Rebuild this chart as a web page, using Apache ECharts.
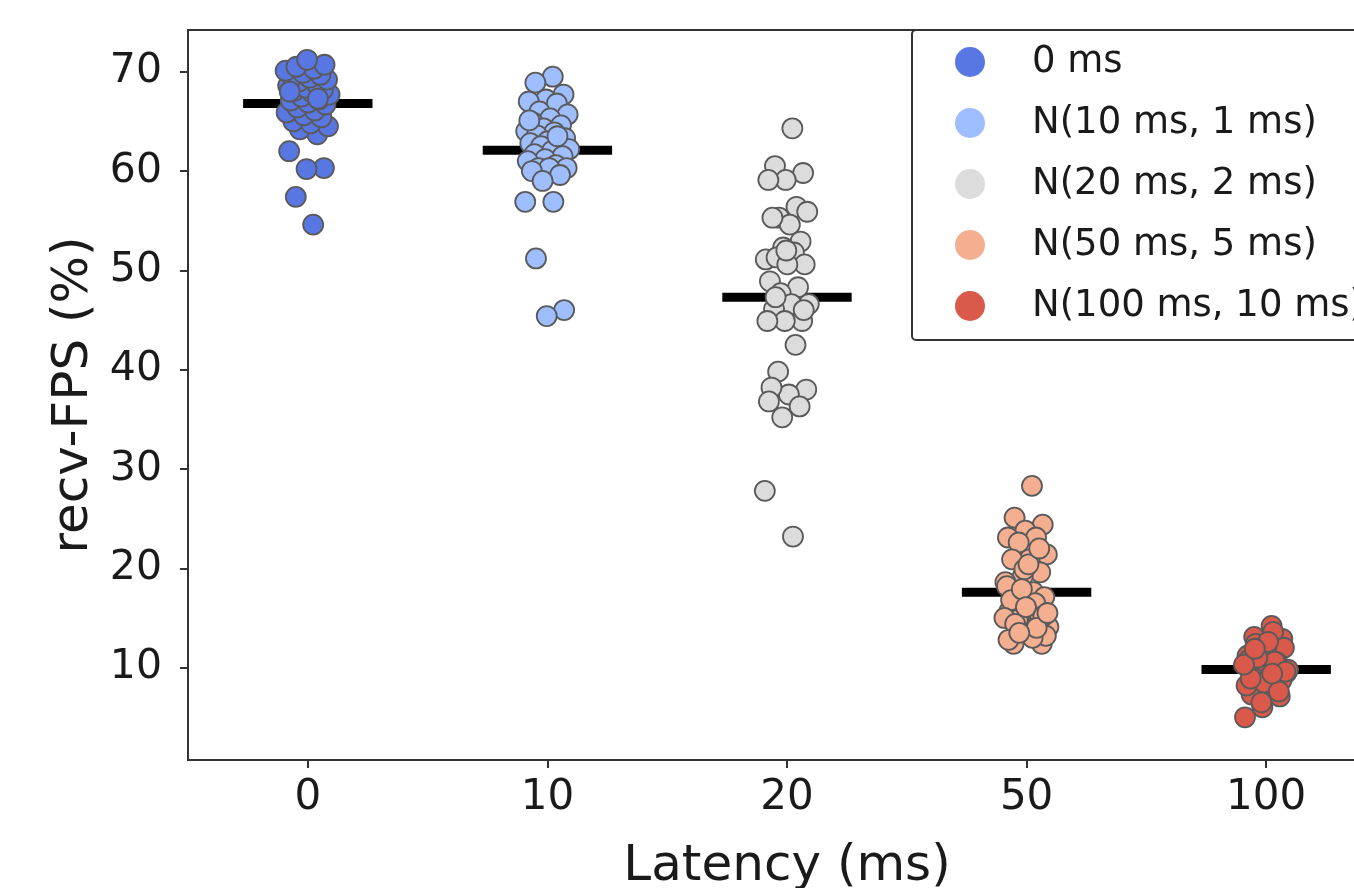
<!DOCTYPE html>
<html>
<head>
<meta charset="utf-8">
<script src="https://cdn.jsdelivr.net/npm/echarts@6/dist/echarts.min.js"></script>
<style>
html,body{margin:0;padding:0;background:#fff;overflow:hidden;width:1354px;height:888px;}
#chart{width:1400px;height:888px;}
</style>
</head>
<body>
<div id="chart"></div>
<script>
// ---- data ----
const categories = ['0', '10', '20', '50', '100'];
const seriesNames = ['0 ms', 'N(10 ms, 1 ms)', 'N(20 ms, 2 ms)', 'N(50 ms, 5 ms)', 'N(100 ms, 10 ms)'];
const yTicks = [10, 20, 30, 40, 50, 60, 70];

const lat0 = [54.6, 57.4, 60.3, 60.2, 62.0, 63.7,
  64.2, 64.5, 64.8, 65.0, 65.4, 65.6, 65.9, 66.1, 66.4, 66.7,
  66.9, 67.1, 67.2, 67.5, 67.7, 67.9, 68.1, 68.2, 68.4, 68.6,
  68.8, 69.0, 69.2, 69.4, 69.5, 69.7, 69.9, 70.1, 70.3, 70.5,
  70.7, 71.2, 68.0, 67.3];
const lat10 = [69.5, 68.9, 67.7, 67.2, 67.0, 66.8, 66.0, 65.7, 65.3, 64.9,
  64.6, 64.3, 64.0, 63.9, 63.6, 63.3, 63.0, 62.8, 62.5, 62.5,
  62.2, 62.0, 61.7, 61.5, 61.2, 61.0, 60.6, 60.3, 60.3, 60.3,
  60.0, 59.6, 59.0, 56.9, 56.9, 51.2, 46.0, 45.4, 65.1, 63.5];
const lat20 = [64.3, 60.5, 59.8, 59.1, 59.1, 56.4, 55.3, 55.9, 54.6, 55.3,
  52.9, 52.3, 51.1, 51.8, 51.3, 50.6, 50.6, 48.9, 48.3, 47.7,
  46.6, 46.6, 46.1, 44.9, 44.9, 44.9, 42.5, 39.8, 38.0, 37.5,
  38.2, 36.3, 35.2, 27.8, 23.2, 47.3, 46.0, 52.0, 36.8];
const lat50 = [28.3, 25.1, 24.4, 23.8, 23.1, 23.1, 22.6, 21.4, 20.9, 20.9,
  19.6, 19.2, 18.6, 17.6, 17.1, 17.1, 15.7, 15.7, 15.7, 15.4,
  14.1, 13.6, 12.4, 12.4, 19.9, 18.2, 16.5, 14.8, 13.2, 20.4,
  16.8, 22.0, 17.9, 15.0, 13.0, 14.4, 15.2, 16.1, 12.8, 14.0, 13.5, 15.5];
const lat100 = [14.2, 13.1, 12.9, 11.7, 11.2, 11.2, 10.0, 9.5, 7.8, 7.3,
  7.1, 6.0, 5.0, 13.6, 12.4, 12.0, 11.5, 10.8, 10.5, 10.2,
  9.8, 9.2, 9.0, 8.7, 8.5, 8.2, 10.6, 11.0, 9.6, 12.6,
  8.9, 7.6, 6.5, 10.3, 9.4, 11.9];
const meanValues = [66.8, 62.1, 47.3, 17.6, 9.8];

const allValues = [lat0, lat10, lat20, lat50, lat100];
const colors = ['#5977e3', '#9ebeff', '#dddcdc', '#f4ae90', '#d95a4b'];

// deterministic strip jitter (layout only)
function jitter(i) {
  return ((((i + 1) * 0.6180339887) % 1) - 0.5) * 0.19;
}

const font = 'DejaVu Sans';
const txt = '#1a1a1a';
const axisCol = '#333';

const scatterSeries = allValues.map((vals, k) => ({
  name: seriesNames[k],
  type: 'scatter',
  xAxisIndex: 1,
  yAxisIndex: 0,
  symbol: 'circle',
  symbolSize: 20,
  z: 3,
  itemStyle: { color: colors[k], borderColor: '#5a5a5a', borderWidth: 1.8, opacity: 1 },
  data: vals.map((v, i) => [k + jitter(i), v])
}));

const meanSeries = {
  name: 'mean',
  type: 'custom',
  xAxisIndex: 1,
  yAxisIndex: 0,
  z: 2,
  data: meanValues.map((m, k) => [k, m]),
  renderItem: function (params, api) {
    const k = api.value(0), m = api.value(1);
    const p1 = api.coord([k - 0.27, m]);
    const p2 = api.coord([k + 0.27, m]);
    return {
      type: 'line',
      shape: { x1: p1[0], y1: p1[1], x2: p2[0], y2: p2[1] },
      style: { stroke: '#000', lineWidth: 9, lineCap: 'butt' }
    };
  }
};

const chart = echarts.init(document.getElementById('chart'));
chart.setOption({
  animation: false,
  backgroundColor: '#fff',
  textStyle: { fontFamily: font },
  grid: {
    left: 188, top: 30, width: 1198, height: 730,
    outerBoundsMode: 'none',
    containLabel: false,
    show: true, borderColor: axisCol, borderWidth: 2, backgroundColor: 'transparent'
  },
  legend: {
    data: seriesNames,
    orient: 'vertical',
    left: 912, top: 30,
    padding: [12, 30, 14, 43],
    itemGap: 21,
    itemWidth: 30, itemHeight: 30,
    icon: 'circle',
    itemStyle: { borderWidth: 0 },
    backgroundColor: '#fff',
    borderColor: axisCol, borderWidth: 2, borderRadius: 4,
    textStyle: { fontFamily: font, fontSize: 37, color: txt, lineHeight: 40, padding: [0, 0, 0, 42] }
  },
  xAxis: [
    {
      type: 'category',
      data: categories,
      boundaryGap: true,
      name: 'Latency (ms)',
      nameLocation: 'middle',
      nameGap: 82,
      nameTextStyle: { fontFamily: font, fontSize: 50, color: txt },
      axisLine: { show: true, onZero: false, lineStyle: { color: axisCol, width: 2 } },
      axisTick: { show: true, alignWithLabel: true, length: 8, lineStyle: { color: axisCol, width: 2 } },
      axisLabel: { fontFamily: font, fontSize: 42, color: txt, margin: 17 },
      splitLine: { show: false }
    },
    {
      type: 'value',
      min: -0.5, max: 4.5,
      show: false,
      axisLine: { onZero: false },
      splitLine: { show: false }
    }
  ],
  yAxis: {
    type: 'value',
    min: 0.7, max: 74.2,
    name: 'recv-FPS (%)',
    nameLocation: 'middle',
    nameGap: 86,
    nameTextStyle: { fontFamily: font, fontSize: 50, color: txt },
    axisLine: { show: true, onZero: false, lineStyle: { color: axisCol, width: 2 } },
    axisTick: { show: true, length: 8, customValues: yTicks, lineStyle: { color: axisCol, width: 2 } },
    axisLabel: { fontFamily: font, fontSize: 41, color: txt, margin: 26, customValues: yTicks },
    splitLine: { show: false }
  },
  series: [meanSeries].concat(scatterSeries)
});
</script>
</body>
</html>
